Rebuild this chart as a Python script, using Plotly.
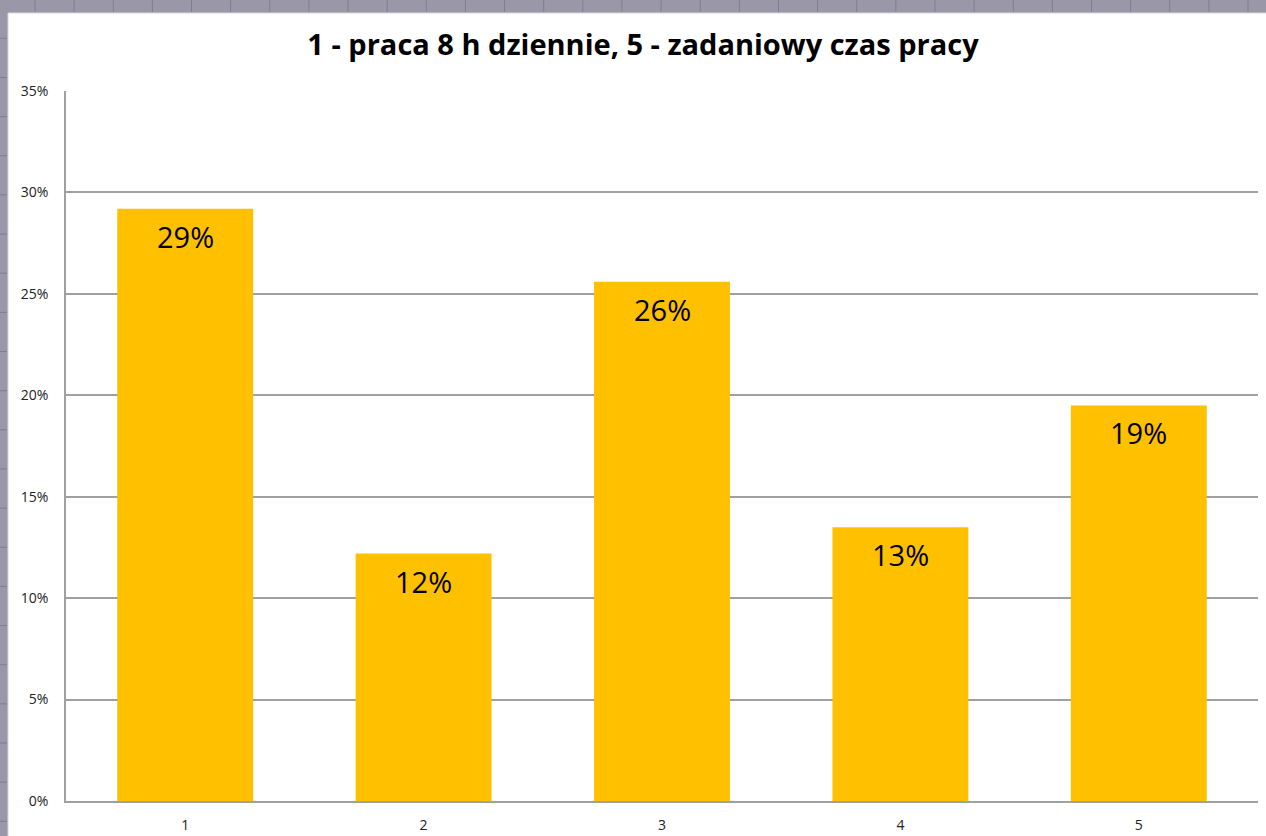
import plotly.graph_objects as go

# share of answers per option (1 = 8 h per day ... 5 = task-based working time)
categories = [1, 2, 3, 4, 5]
shares = [29.2, 12.2, 25.6, 13.5, 19.5]
labels = ["29%", "12%", "26%", "13%", "19%"]
y_ticks = [0, 5, 10, 15, 20, 25, 30, 35]
y_tick_text = [f"{v}%" for v in y_ticks]

W, H = 1266, 836
L, R, T, B = 66, 8, 91, 35
PW, PH = W - L - R, H - T - B


def px_x(px):
    return (px - L) / PW


def px_y(py):
    return (H - B - py) / PH


fig = go.Figure()
fig.add_trace(go.Bar(
    x=categories,
    y=shares,
    marker=dict(color="#FFC000", line=dict(width=0)),
    width=0.57,
    hoverinfo="skip",
))

for cat, val, lab in zip(categories, shares, labels):
    fig.add_annotation(
        x=cat, y=val, text=lab, showarrow=False,
        yanchor="top", yshift=-6,
        font=dict(family="Open Sans", size=29, color="#000000"),
    )

# spreadsheet behind the chart
shapes = [dict(
    type="rect", xref="paper", yref="paper", layer="below",
    x0=px_x(8), x1=px_x(W + 20), y0=px_y(H + 20), y1=px_y(13),
    fillcolor="#ffffff", line=dict(color="#d8d8de", width=1),
)]
gx = 35.0
while gx < W:
    shapes.append(dict(type="line", xref="paper", yref="paper", layer="below",
                       x0=px_x(gx), x1=px_x(gx), y0=px_y(0), y1=px_y(12),
                       line=dict(color="#7f7d90", width=1)))
    gx += 39.13
gy = 38.3
while gy < H:
    shapes.append(dict(type="line", xref="paper", yref="paper", layer="below",
                       x0=px_x(0), x1=px_x(7), y0=px_y(gy), y1=px_y(gy),
                       line=dict(color="#7f7d90", width=1)))
    gy += 39.15

fig.update_layout(
    width=W, height=H,
    margin=dict(l=L, r=R, t=T, b=B),
    paper_bgcolor="#9a98a8",
    plot_bgcolor="#ffffff",
    shapes=shapes,
    showlegend=False,
    font=dict(family="Open Sans", color="#222222"),
    title=dict(
        text="<b>1 - praca 8 h dziennie, 5 - zadaniowy czas pracy</b>",
        x=643 / W, xanchor="center",
        y=1 - 45 / H, yanchor="middle",
        font=dict(family="Open Sans", size=29, color="#000000"),
    ),
    xaxis=dict(
        range=[0.5, 5.5],
        tickvals=categories, ticktext=[str(c) for c in categories],
        showgrid=False, zeroline=False,
        showline=True, linecolor="#a0a0a0", linewidth=1.5,
        ticks="", tickfont=dict(size=14, color="#222222"),
        ticklabelstandoff=10, automargin=False,
    ),
    yaxis=dict(
        range=[0, 35],
        tickvals=y_ticks, ticktext=y_tick_text,
        showgrid=True, gridcolor="#a0a0a0", gridwidth=1.5,
        zeroline=False,
        showline=True, linecolor="#a0a0a0", linewidth=1.5,
        ticks="", tickfont=dict(size=14, color="#222222"),
        ticklabelstandoff=13, automargin=False,
    ),
)

# page has a default 8px body margin; drop it so the figure fills the window
fig.write_html("out.html", config={"displayModeBar": False},
               post_script="document.body.style.margin = '0';")
